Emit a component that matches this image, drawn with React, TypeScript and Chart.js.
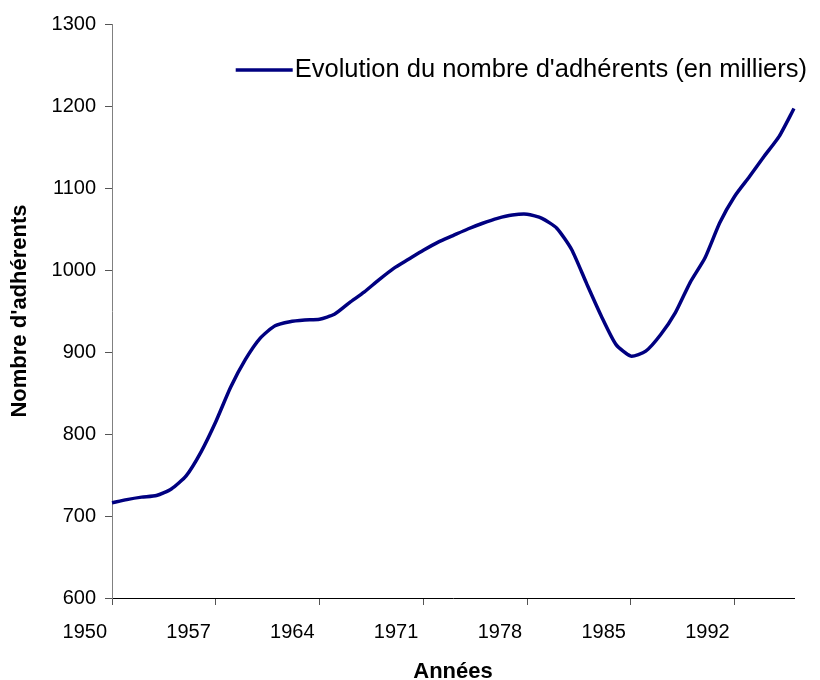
import React, { useEffect, useRef } from "react";
import { Chart, registerables } from "chart.js";

Chart.register(...registerables);

// ---- Data ----
const years: string[] = [
  "1950", "1951", "1952", "1953", "1954", "1955", "1956", "1957", "1958", "1959",
  "1960", "1961", "1962", "1963", "1964", "1965", "1966", "1967", "1968", "1969",
  "1970", "1971", "1972", "1973", "1974", "1975", "1976", "1977", "1978", "1979",
  "1980", "1981", "1982", "1983", "1984", "1985", "1986", "1987", "1988", "1989",
  "1990", "1991", "1992", "1993", "1994", "1995", "1996",
];

const members: number[] = [
  716, 720, 723, 725, 733, 749, 778, 815, 857, 891,
  917, 932, 937, 939, 940, 946, 960, 973, 988, 1002,
  1013, 1024, 1034, 1042, 1050, 1057, 1063, 1067, 1068, 1063,
  1051, 1025, 984, 944, 909, 895, 901, 921, 948, 985,
  1015, 1058, 1090, 1114, 1139, 1163, 1197,
];

const yMin = 600;
const yMax = 1300;
const yStep = 100;
const xLabelEvery = 7;

const seriesLabel = "Evolution du nombre d'adhérents (en milliers)";
const xTitle = "Années";
const yTitle = "Nombre d'adhérents";

const LINE_COLOR = "#000080";
const FONT_FAMILY = '"Liberation Sans", Arial, Helvetica, sans-serif';

const legendPlugin = {
  id: "excelLegend",
  afterDraw(chart: any) {
    const { ctx, chartArea } = chart;
    ctx.save();
    ctx.font = `25.5px ${FONT_FAMILY}`;
    const textW = ctx.measureText(seriesLabel).width;
    const textRight = chartArea.right + 13;
    const textX = textRight - textW;
    const y = chartArea.top + 46;
    ctx.strokeStyle = LINE_COLOR;
    ctx.lineWidth = 3.5;
    ctx.lineCap = "butt";
    ctx.beginPath();
    ctx.moveTo(textX - 59, y);
    ctx.lineTo(textX - 2, y);
    ctx.stroke();
    ctx.fillStyle = "#000";
    ctx.textAlign = "left";
    ctx.textBaseline = "middle";
    ctx.fillText(seriesLabel, textX, y);
    ctx.restore();
  },
};

export default function App() {
  const canvasRef = useRef<HTMLCanvasElement | null>(null);

  useEffect(() => {
    if (!canvasRef.current) return;
    const chart = new Chart(canvasRef.current, {
      type: "line",
      data: {
        labels: years,
        datasets: [
          {
            label: seriesLabel,
            data: members,
            borderColor: LINE_COLOR,
            backgroundColor: LINE_COLOR,
            borderWidth: 3.5,
            pointRadius: 0,
            pointHoverRadius: 0,
            tension: 0.2,
            fill: false,
          },
        ],
      },
      options: {
        responsive: false,
        animation: false,
        events: [],
        layout: { padding: { top: 24, right: 26, left: 0, bottom: 0 } },
        plugins: {
          legend: { display: false },
          tooltip: { enabled: false },
          title: { display: false },
        },
        scales: {
          x: {
            type: "category",
            offset: false,
            afterBuildTicks: (scale: any) => {
              scale.ticks = scale.ticks.filter((t: any) => t.value % xLabelEvery === 0);
            },
            afterFit: (scale: any) => {
              scale.height = 82;
            },
            grid: {
              display: true,
              drawOnChartArea: false,
              drawTicks: true,
              tickLength: 7,
              color: "#555555",
              lineWidth: 1,
            },
            border: { display: true, color: "#000000", width: 1 },
            ticks: {
              autoSkip: false,
              maxRotation: 0,
              minRotation: 0,
              align: "end",
              labelOffset: -5,
              padding: 15,
              color: "#000",
              font: { family: FONT_FAMILY, size: 20 },
            },
            title: {
              display: true,
              text: xTitle,
              color: "#000",
              font: { family: FONT_FAMILY, size: 22, weight: "bold", lineHeight: 0.7 },
              padding: { top: 0, bottom: 0 },
            },
          },
          y: {
            type: "linear",
            min: yMin,
            max: yMax,
            afterFit: (scale: any) => {
              scale.width = 112;
            },
            grid: {
              display: true,
              drawOnChartArea: false,
              drawTicks: true,
              tickLength: 7,
              color: "#555555",
              lineWidth: 1,
            },
            border: { display: true, color: "#808080", width: 1 },
            ticks: {
              stepSize: yStep,
              padding: 9,
              color: "#000",
              font: { family: FONT_FAMILY, size: 20 },
              callback: (value: any) => String(value),
            },
            title: {
              display: true,
              text: yTitle,
              color: "#000",
              font: { family: FONT_FAMILY, size: 22, weight: "bold", lineHeight: 1.2 },
              padding: { top: 7, bottom: 0 },
            },
          },
        },
      },
      plugins: [legendPlugin],
    });
    return () => {
      chart.destroy();
    };
  }, []);

  return (
    <div style={{ position: "absolute", left: 0, top: 0, width: 820, height: 680, background: "#fff" }}>
      <canvas ref={canvasRef} width={820} height={680} style={{ display: "block" }} />
    </div>
  );
}
